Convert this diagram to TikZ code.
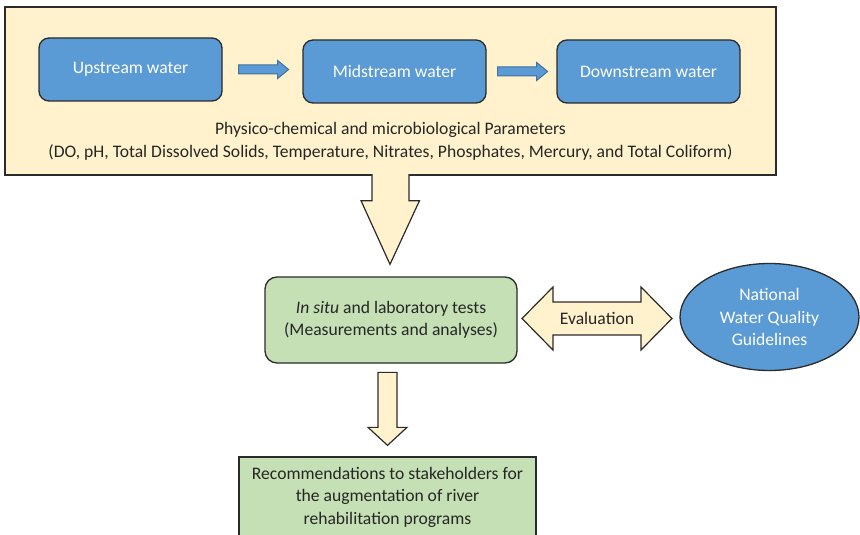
\documentclass[tikz,border=0pt]{standalone}
\usepackage{fontspec}
\setmainfont{Carlito}
\usetikzlibrary{calc,shapes.geometric}

\definecolor{cream}{HTML}{FFF2CC}
\definecolor{waterblue}{HTML}{5B9BD5}
\definecolor{leafgreen}{HTML}{C5E0B4}
\definecolor{edgegray}{HTML}{2B2B2B}
\definecolor{arrowedge}{HTML}{41719C}
\definecolor{textgray}{HTML}{262626}

\tikzset{
  sitebox/.style={draw=edgegray, line width=1.3pt, fill=waterblue, rounded corners=10pt,
    minimum width=183pt, minimum height=63pt, text=white, inner sep=0pt},
  testbox/.style={draw=edgegray, line width=1.3pt, fill=leafgreen, rounded corners=12pt,
    minimum width=252pt, minimum height=86pt, align=center, text=textgray, inner sep=0pt},
  flowarrow/.style={draw=arrowedge, line width=1pt, fill=waterblue},
  blockarrow/.style={draw=edgegray, line width=1.2pt, fill=cream, line join=miter},
}

\begin{document}
\begin{tikzpicture}[x=1pt,y=1pt,font=\fontsize{17.6}{22.5}\selectfont]
  \useasboundingbox (0,0) rectangle (860,-535);

  % Parameter frame
  \node[draw=edgegray, line width=1.3pt, fill=cream, minimum width=771pt, minimum height=168pt,
    inner sep=0pt] (frame) at (390.5,-91) {};

  % Sampling sites
  \node[sitebox] (up)   at (130.5,-69.5) {Upstream water};
  \node[sitebox] (mid)  at (394.5,-71.5) {Midstream water};
  \node[sitebox] (down) at (648.5,-71.5) {Downstream water};

  \draw[flowarrow] ($(up.east)+(16,4.5)$) -- ++(39,0) -- ++(0,4.5) -- ++(11,-9)
    -- ++(-11,-9) -- ++(0,4.5) -- ++(-39,0) -- cycle;
  \draw[flowarrow] ($(mid.east)+(11,4.5)$) -- ++(39,0) -- ++(0,4.5) -- ++(11,-9)
    -- ++(-11,-9) -- ++(0,4.5) -- ++(-39,0) -- cycle;

  \node[align=center, text=textgray] (params) at (390.5,-141.5)
    {Physico-chemical and microbiological Parameters\\
     (DO, pH, Total Dissolved Solids, Temperature, Nitrates, Phosphates, Mercury, and Total Coliform)};

  % Tests and guidelines
  \node[testbox] (tests) at (391,-320) {\textit{In situ} and laboratory tests\\(Measurements and analyses)};
  \node[ellipse, draw=edgegray, line width=1.3pt, fill=waterblue, minimum width=179pt,
    minimum height=107pt, inner sep=0pt, align=center, text=white] (guide) at (769.5,-317)
    {National\\Water Quality\\Guidelines};

  % Recommendations (runs off the bottom edge)
  \node[draw=edgegray, line width=1.3pt, fill=leafgreen, minimum width=297pt, minimum height=80pt,
    inner sep=0pt, align=center, text=textgray] (recs) at (387.5,-497)
    {Recommendations to stakeholders for\\the augmentation of river\\rehabilitation programs};

  % Big arrow frame -> tests (open at the top)
  \filldraw[blockarrow] ($(frame.south)+(-18.5,1.5)$) -- ++(0,-26.5) -- ++(-11,0)
    -- ($(tests.north)+(-1,12)$) -- ($(frame.south)+(29,-25)$) -- ++(-10.5,0)
    -- ($(frame.south)+(18.5,1.5)$);

  % Arrow tests -> recommendations
  \draw[blockarrow] ($(recs.north)+(-9.5,84)$) -- ++(0,-55) -- ++(-10,0) -- ($(recs.north)+(0,11)$)
    -- ++(19.5,18) -- ++(-10,0) -- ++(0,55) -- cycle;

  % Evaluation double arrow
  \coordinate (evalc) at ($(tests.east)!0.5!(guide.west)+(-1.5,0)$);
  \draw[blockarrow] ($(evalc)+(-75,0)$) -- ++(31,31.5) -- ++(0,-15) -- ++(88,0) -- ++(0,15)
    -- ($(evalc)+(75,0)$) -- ++(-31,-31.5) -- ++(0,15) -- ++(-88,0) -- ++(0,-15) -- cycle;
  \node[text=textgray] (eval) at (evalc) {Evaluation};
\end{tikzpicture}
\end{document}
